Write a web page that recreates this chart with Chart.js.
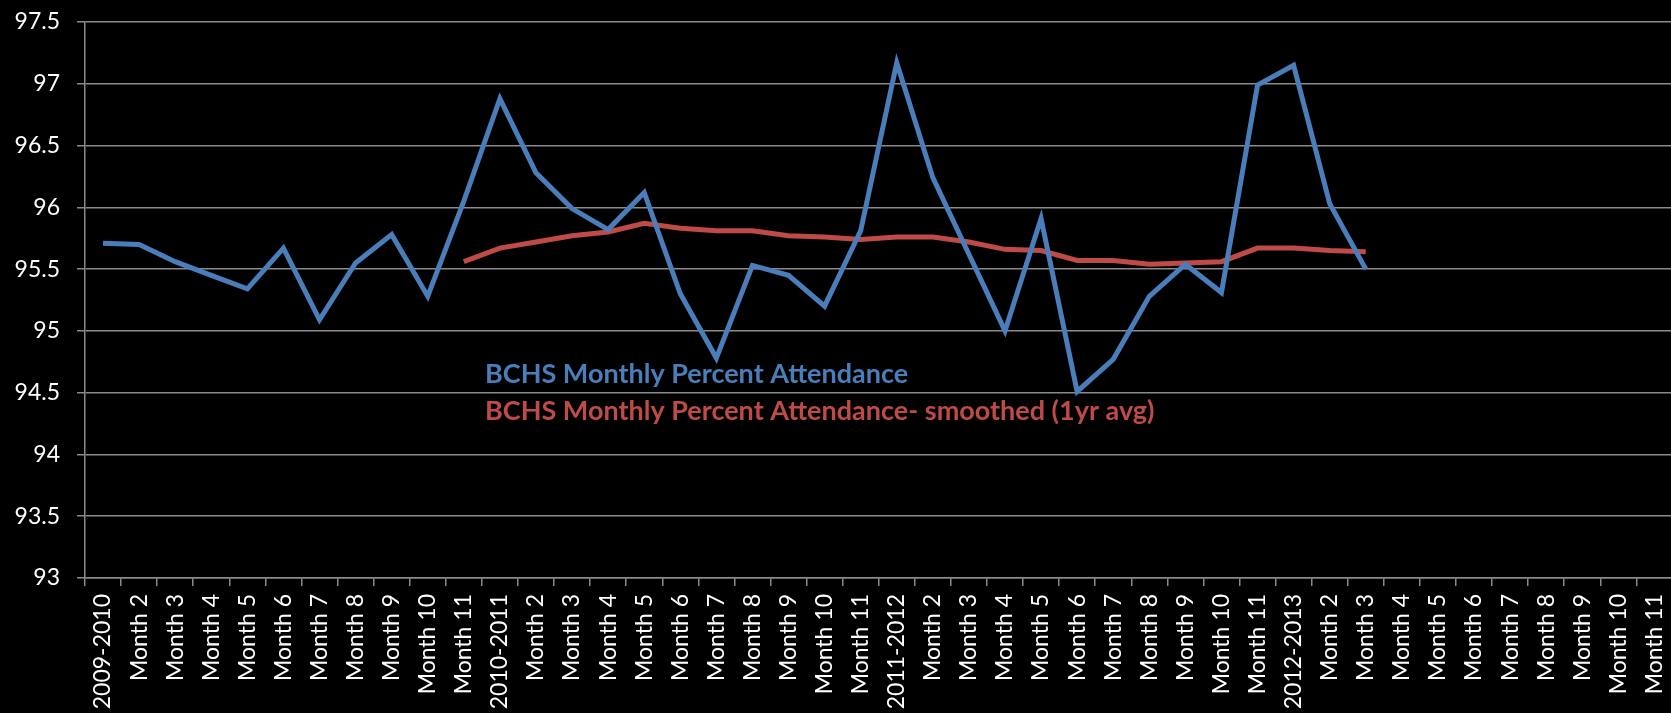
<!DOCTYPE html>
<html>
<head>
<meta charset="utf-8">
<script src="https://cdn.jsdelivr.net/npm/chart.js@4"></script>
<style>
  html, body { margin: 0; padding: 0; background: #000; overflow: hidden; }
  #wrap { width: 1690px; height: 713px; }
</style>
</head>
<body>
<div id="wrap"><canvas id="attChart"></canvas></div>
<script>
// categories: 4 school years x 11 months
const years = ['2009-2010', '2010-2011', '2011-2012', '2012-2013'];
const labels = [];
years.forEach(y => {
  labels.push(y);
  for (let m = 2; m <= 11; m++) labels.push('Month ' + m);
});

const monthly = [95.71, 95.70, 95.56, 95.45, 95.34, 95.67, 95.09, 95.55, 95.78, 95.28, 96.05,
  96.88, 96.28, 95.99, 95.82, 96.12, 95.30, 94.78, 95.53, 95.45, 95.20, 95.81,
  97.17, 96.24, 95.62, 95.00, 95.91, 94.51, 94.77, 95.28, 95.54, 95.31, 96.99,
  97.15, 96.03, 95.50, null, null, null, null, null, null, null, null];

const smoothed = [null, null, null, null, null, null, null, null, null, null, 95.56,
  95.67, 95.72, 95.77, 95.80, 95.87, 95.83, 95.81, 95.81, 95.77, 95.76, 95.74,
  95.76, 95.76, 95.72, 95.66, 95.65, 95.57, 95.57, 95.54, 95.55, 95.56, 95.67,
  95.67, 95.65, 95.64, null, null, null, null, null, null, null, null];

const yMin = 93, yMax = 97.5, yStep = 0.5;

// legend drawn as coloured text inside the plot
const textLegend = {
  id: 'textLegend',
  afterDatasetsDraw(chart) {
    const ctx = chart.ctx;
    const a = chart.chartArea;
    ctx.save();
    ctx.font = 'bold 27px Lato';
    ctx.textBaseline = 'alphabetic';
    chart.data.datasets.forEach((ds, i) => {
      ctx.fillStyle = ds.borderColor;
      ctx.fillText(ds.label, 485, a.top + 361 + i * 37);
    });
    ctx.restore();
  }
};

const grey = '#8a8a8a';

new Chart(document.getElementById('attChart'), {
  type: 'line',
  data: {
    labels: labels,
    datasets: [{
      label: 'BCHS Monthly Percent Attendance',
      data: monthly,
      borderColor: '#4a7ebb',
      borderWidth: 5,
      pointRadius: 0,
      tension: 0
    }, {
      label: 'BCHS Monthly Percent Attendance- smoothed (1yr avg)',
      data: smoothed,
      borderColor: '#be4b48',
      borderWidth: 5,
      pointRadius: 0,
      tension: 0
    }]
  },
  options: {
    responsive: true,
    maintainAspectRatio: false,
    animation: false,
    layout: { padding: { top: 22, right: 0, left: 0, bottom: 0 } },
    plugins: {
      legend: { display: false },
      tooltip: { enabled: false }
    },
    scales: {
      x: {
        offset: true,
        grid: { drawOnChartArea: false, drawTicks: true, tickLength: 8, color: grey, lineWidth: 1.5, offset: true },
        border: { color: grey, width: 1.5 },
        ticks: {
          color: '#fff',
          font: { family: 'Lato', size: 23 },
          minRotation: 90,
          maxRotation: 90,
          autoSkip: false,
          padding: 8
        },
        afterFit(scale) { scale.height = 135; scale.paddingTop = 0; }
      },
      y: {
        min: yMin,
        max: yMax,
        grid: { color: grey, lineWidth: 1.5, tickLength: 8 },
        border: { color: grey, width: 1.5 },
        ticks: {
          stepSize: yStep,
          color: '#fff',
          font: { family: 'Lato', size: 23 },
          padding: 17,
          callback: v => String(+v.toFixed(1))
        },
        afterFit(scale) { scale.width = 85; scale.paddingTop = 0; }
      }
    }
  },
  plugins: [textLegend]
});
</script>
</body>
</html>
